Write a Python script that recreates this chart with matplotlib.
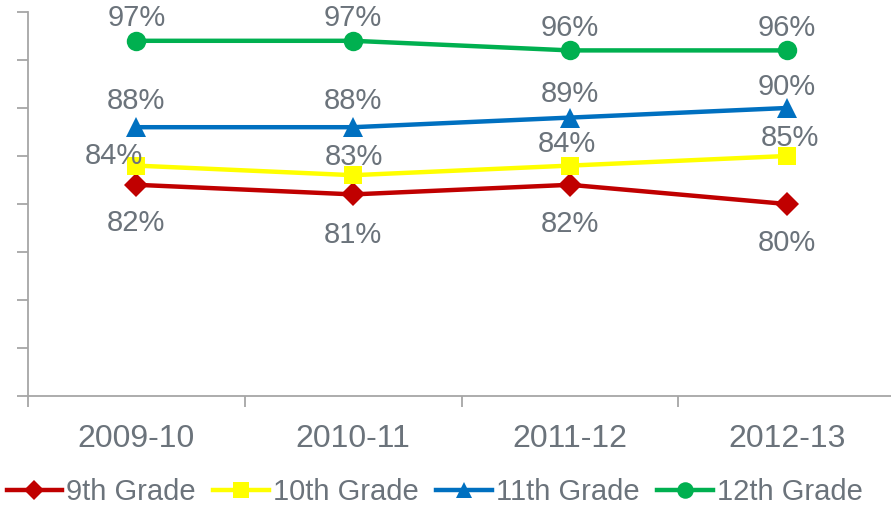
import matplotlib

matplotlib.use("Agg")
import matplotlib.pyplot as plt

years = ["2009-10", "2010-11", "2011-12", "2012-13"]
grade_names = ["9th Grade", "10th Grade", "11th Grade", "12th Grade"]
grade9 = [82, 81, 82, 80]
grade10 = [84, 83, 84, 85]
grade11 = [88, 88, 89, 90]
grade12 = [97, 97, 96, 96]

TEXT = "#6B737B"
AXIS = "#A6A6A6"

plt.rcParams["font.family"] = ["Liberation Sans", "DejaVu Sans"]

# color, marker, marker size, label offset in px (dx, dy) for each point
styles = [
    ("#C00000", "D", 12, [(0, -38), (0, -41), (0, -39), (0, -39)]),
    ("#FFFF00", "s", 13, [(-22, 10), (1, 18), (-3, 22), (3, 18)]),
    ("#0070C0", "^", 14, [(0, 26), (0, 26), (0, 24), (0, 21)]),
    ("#00B050", "o", 14, [(0, 23), (0, 23), (0, 22), (0, 22)]),
]
series = [grade9, grade10, grade11, grade12]

fig = plt.figure(figsize=(8.91, 5.08), dpi=100)
ax = fig.add_axes([28 / 891, 112 / 508, 867 / 891, 384 / 508])

x = list(range(len(years)))
for name, values, (color, marker, ms, offsets) in zip(grade_names, series, styles):
    ax.plot(x, values, color=color, lw=3.2, marker=marker, markersize=ms,
            markeredgewidth=0, label=name, zorder=3)
    for xi, v, (dx, dy) in zip(x, values, offsets):
        ax.annotate(f"{v}%", (xi, v), xytext=(dx * 0.72, dy * 0.72),
                    textcoords="offset points", ha="center", va="center",
                    fontsize=21, color=TEXT, zorder=4)

ax.set_xlim(-0.5, 3.5)
ax.set_ylim(60, 100)
ax.set_yticks(range(60, 101, 5))
ax.set_yticklabels([])
ax.set_xticks([i - 0.5 for i in range(5)])
ax.set_xticklabels([])
ax.set_xticks(x, minor=True)
ax.set_xticklabels(years, minor=True, fontsize=23, color=TEXT)
ax.tick_params(axis="x", which="minor", length=0, pad=20)
ax.tick_params(axis="both", which="major", length=8, width=1.3, color=AXIS)

for side in ["top", "right"]:
    ax.spines[side].set_visible(False)
for side in ["left", "bottom"]:
    ax.spines[side].set_color(AXIS)
    ax.spines[side].set_linewidth(1.3)

leg = fig.legend(loc="center", bbox_to_anchor=(0.488, 0.031), ncol=4,
                 frameon=False, fontsize=21, handlelength=1.9,
                 handletextpad=0.15, columnspacing=0.6, markerscale=0.85,
                 borderpad=0, borderaxespad=0)
for t in leg.get_texts():
    t.set_color(TEXT)

fig.savefig("out.png", dpi=100)
